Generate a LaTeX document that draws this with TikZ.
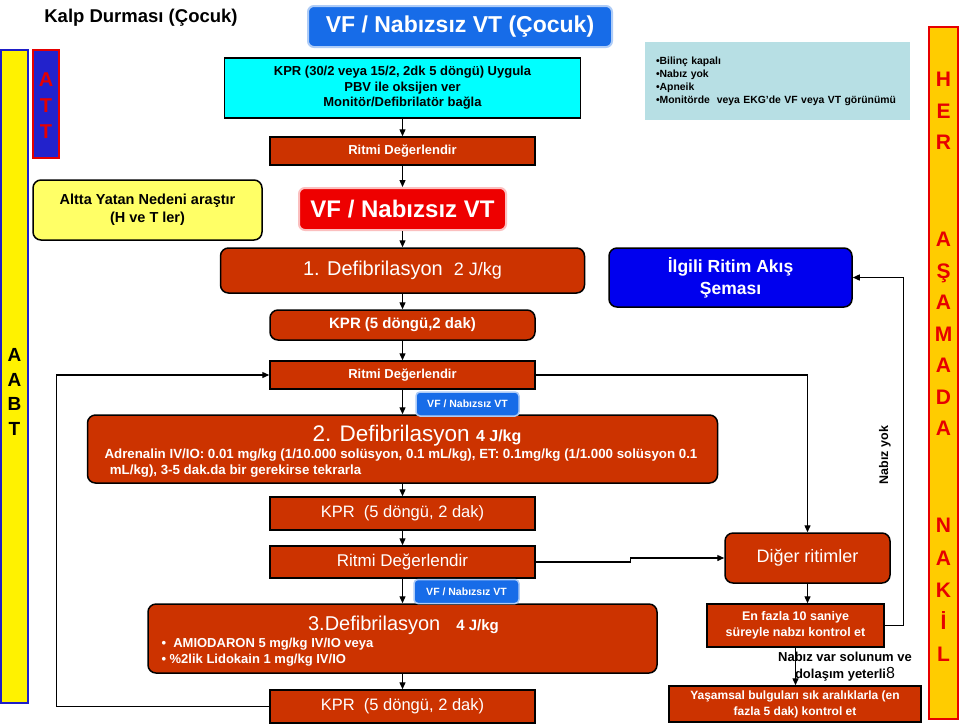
\documentclass[tikz,border=0pt]{standalone}
\usepackage{fontspec}
\setmainfont{Liberation Sans}
\usetikzlibrary{arrows.meta,positioning,calc}

\definecolor{brickred}{RGB}{204,51,0}
\definecolor{cyanbox}{RGB}{0,255,255}
\definecolor{infoteal}{RGB}{183,223,228}
\definecolor{titleblue}{RGB}{23,108,232}
\definecolor{vfred}{RGB}{238,0,0}
\definecolor{deepblue}{RGB}{0,0,238}
\definecolor{attblue}{RGB}{34,34,204}
\definecolor{barblue}{RGB}{30,30,200}
\definecolor{barred}{RGB}{230,0,0}
\definecolor{goldbar}{RGB}{255,204,0}
\definecolor{lightyellow}{RGB}{255,255,102}

\newcommand{\fsz}[2]{\fontsize{#1}{#2}\selectfont}

\tikzset{
  box/.style={draw=black, line width=1.5pt, fill=brickred, text=white, align=center, inner sep=0pt},
  roundbox/.style={box, rounded corners=8pt},
  chainbox/.style={box, minimum width=265pt},
  flow/.style={line width=1.3pt, -{Triangle[length=7pt,width=6pt]}},
  vftag/.style={fill=titleblue, draw=titleblue!35, line width=1.5pt, rounded corners=4pt, text=white,
    font=\bfseries\fsz{10.5}{12}, minimum height=24pt, inner sep=0pt},
  barletter/.style={font=\bfseries\fsz{21}{24}, text=barred, text height=15pt, text depth=0pt, inner sep=0pt},
}

\begin{document}
\begin{tikzpicture}[x=1pt,y=-1pt]
  \fill[white] (0,0) rectangle (960,724);
  \useasboundingbox (0,0) rectangle (960,724);

  % headings
  \node[font=\bfseries\fsz{18.5}{22}] (title) at (141,18) {Kalp Durması (Çocuk)};
  \node[fill=titleblue, draw=titleblue!35, line width=2pt, rounded corners=6pt, text=white,
    font=\bfseries\fsz{23}{26}, minimum width=304pt, minimum height=41pt, inner sep=0pt]
    (vftitle) at (460,26.5) {VF / Nabızsız VT (Çocuk)};

  % side bars
  \node[fill=yellow, draw=barblue, line width=1.5pt, minimum width=27pt, minimum height=653pt, inner sep=0pt]
    (aabtbar) at (14.5,376.5) {};
  \node[font=\bfseries\fsz{19}{24.7}, align=center] (aabt) at (14.5,392) {A\\A\\B\\T};
  \node[fill=attblue, draw=barred, line width=1.5pt, minimum width=26pt, minimum height=108pt, inner sep=0pt]
    (attbox) at (46,104) {};
  \node[font=\bfseries\fsz{20}{26}, text=barred, align=center] (att) at (46,106) {A\\T\\T};
  \node[fill=goldbar, draw=barred, line width=1.5pt, minimum width=29pt, minimum height=692pt, inner sep=0pt]
    (herbar) at (943.5,373) {};
  \foreach \ch/\yy [count=\i] in {H/79,E/110.5,R/142,A/239,Ş/270.5,A/302,M/333.5,A/365,D/396.5,A/428,
      N/525,A/558,K/590,İ/622,L/654}
    \node[barletter] (her\i) at (943.5,\yy) {\ch};

  % info
  \node[fill=infoteal, text width=243pt, inner xsep=11pt, minimum height=78pt, align=left,
    font=\bfseries\fsz{10.4}{13}] (info) at (777.5,81)
    {•Bilinç kapalı\\•Nabız yok\\•Apneik\\•Monitörde\ \ veya EKG'de VF veya VT görünümü};

  % main chain
  \node[box, fill=cyanbox, text=black, font=\bfseries\fsz{13}{15.5}, minimum width=356pt, minimum height=60pt]
    (kprstart) at (402.5,88) {KPR (30/2 veya 15/2, 2dk 5 döngü) Uygula\\PBV ile oksijen ver\\Monitör/Defibrilatör bağla};
  \node[chainbox, font=\bfseries\fsz{13}{15}, minimum height=28pt] (ritmi1) at (402.5,151) {Ritmi Değerlendir};
  \node[roundbox, fill=lightyellow, text=black, font=\bfseries\fsz{14.5}{18}, minimum width=229pt, minimum height=60pt]
    (altta) at (147.5,210) {Altta Yatan Nedeni araştır\\(H ve T ler)};
  \node[fill=vfred, draw=vfred!25, line width=2pt, rounded corners=6pt, text=white, font=\bfseries\fsz{24}{28},
    minimum width=207pt, minimum height=42pt, inner sep=0pt] (vfbox) at (402.5,209) {VF / Nabızsız VT};
  \node[roundbox, font=\fsz{20}{24}, minimum width=364pt, minimum height=45pt] (def1) at (402.5,270.5)
    {1. Defibrilasyon\ \ {\fsz{18}{22}2 J/kg}};
  \node[roundbox, minimum width=265pt, font=\bfseries\fsz{15}{18}, minimum height=30pt] (kpr1) at (402.5,325)
    {KPR (5 döngü,2 dak)};
  \node[chainbox, font=\bfseries\fsz{13}{15}, minimum height=28pt] (ritmi2) at (402.5,375) {Ritmi Değerlendir};

  \node[roundbox, minimum width=630pt, minimum height=68pt] (def2) at (402.5,449) {};
  \node[text=white, font=\fsz{22.5}{26}] (def2title) at (417,436) {2. Defibrilasyon {\bfseries\fsz{16}{18}4 J/kg}};
  \node[text=white, font=\bfseries\fsz{13.3}{15.5}, align=left, anchor=west] (def2drug) at (101,463)
    {Adrenalin IV/IO: 0.01 mg/kg (1/10.000 solüsyon, 0.1 mL/kg), ET: 0.1mg/kg (1/1.000 solüsyon 0.1\\
     \hspace*{0.4em}mL/kg), 3-5 dak.da bir gerekirse tekrarla};

  \node[chainbox, font=\fsz{16.5}{19}, minimum height=33pt] (kpr2) at (402.5,513.5) {KPR~ (5 döngü, 2 dak)};
  \node[chainbox, font=\fsz{17}{20}, minimum height=32pt] (ritmi3) at (402.5,562) {Ritmi Değerlendir};

  \node[roundbox, minimum width=509pt, minimum height=69pt] (def3) at (402.5,638.5) {};
  \node[text=white, font=\fsz{20}{24}] (def3title) at (403.5,625)
    {3.Defibrilasyon\hspace{0.8em}{\bfseries\fsz{15}{18}4 J/kg}};
  \node[text=white, font=\bfseries\fsz{13}{16}, align=left, anchor=west] (def3drug) at (158,652)
    {•\ \ AMIODARON 5 mg/kg IV/IO veya\\• \%2lik Lidokain 1 mg/kg IV/IO};

  \node[chainbox, font=\fsz{16.5}{19}, minimum height=33pt] (kpr3) at (402.5,706.5) {KPR~ (5 döngü, 2 dak)};

  \node[vftag, minimum width=103pt] (vftag1) at (467.5,404) {VF / Nabızsız VT};
  \node[vftag, minimum width=105pt] (vftag2) at (466.5,591.5) {VF / Nabızsız VT};

  % right branch
  \node[roundbox, fill=deepblue, font=\bfseries\fsz{17.5}{22}, minimum width=243pt, minimum height=59pt]
    (ilgili) at (730.5,277.5) {İlgili Ritim Akış\\Şeması};
  \node[roundbox, font=\fsz{18}{22}, minimum width=165pt, minimum height=50pt] (diger) at (807.5,558) {Diğer ritimler};
  \node[box, font=\bfseries\fsz{12.5}{16}, minimum width=177pt, minimum height=43pt] (nabizkontrol) at (795.5,625.5)
    {En fazla 10 saniye\\süreyle nabzı kontrol et};
  \node[box, font=\bfseries\fsz{12}{16}, minimum width=252pt, minimum height=36pt] (yasamsal) at (795,704)
    {Yaşamsal bulguları sık aralıklarla (en\\fazla 5 dak) kontrol et};
  \node[rotate=90, font=\bfseries\fsz{12.5}{15}] (nabizyok) at (885,455) {Nabız yok};

  % connectors
  \foreach \a/\b in {kprstart/ritmi1, ritmi1/vfbox, vfbox/def1, def1/kpr1, kpr1/ritmi2, ritmi2/def2,
      def2/kpr2, kpr2/ritmi3, ritmi3/def3, def3/kpr3}
    \draw[flow] (\a.south) -- (\b.north);
  \draw[flow] (kpr3.west) -- ++(-213,0) |- (ritmi2.west);
  \draw[flow] (ritmi2.east) -| (diger.north);
  \draw[flow] (ritmi3.east) -- ++(95,0) -- ++(0,-4) -- (diger.west);
  \draw[flow] (diger.south) -- (diger.south |- nabizkontrol.north);
  \draw[flow] (nabizkontrol.east) -- ++(19,0) |- (ilgili.east);
  \draw[flow] (nabizkontrol.south) -- (nabizkontrol.south |- yasamsal.north);
  \node[font=\bfseries\fsz{13}{17}, align=center] (nabizvar) at (845,667)
    {Nabız var solunum ve\\dolaşım yeterli{\mdseries\fsz{16}{17}8}};
\end{tikzpicture}
\end{document}
